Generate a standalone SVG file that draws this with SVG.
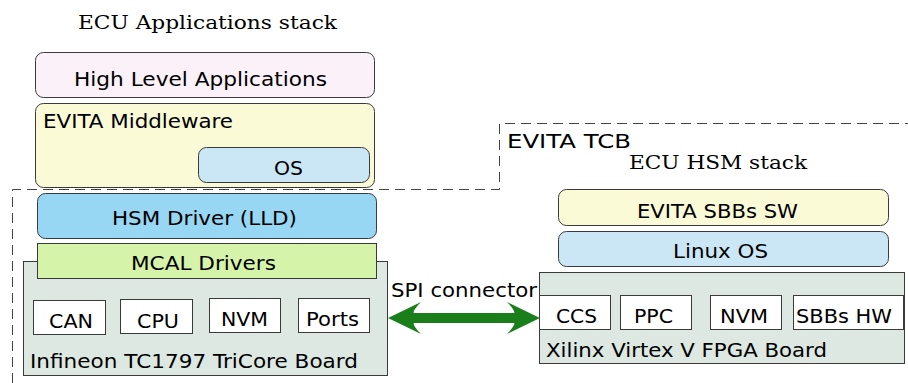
<svg xmlns="http://www.w3.org/2000/svg" width="908" height="383" viewBox="0 0 908 383">
<style>
.s{font-family:"DejaVu Sans",sans-serif;font-size:19px;fill:#000}
.sf{font-family:"DejaVu Serif",serif;font-size:19px;fill:#000}
.rb{stroke:#3a3a3a;stroke-width:1}
.wb{fill:#fff;stroke:#3a3a3a;stroke-width:1}
.dash{fill:none;stroke:#444;stroke-width:1;stroke-dasharray:10,6}
</style>
<rect width="908" height="383" fill="#fff"/>
<g id="tcb">
<path class="dash" d="M12.5,383 L12.5,189.5 L499.5,189.5 L499.5,123.5 L908,123.5"/>
<text class="s" x="507" y="148" font-size="21" textLength="124" lengthAdjust="spacingAndGlyphs">EVITA TCB</text>
</g>
<text id="title-app" class="sf" x="78" y="29" textLength="259" lengthAdjust="spacingAndGlyphs">ECU Applications stack</text>
<text id="title-hsm" class="sf" x="629" y="169" textLength="178" lengthAdjust="spacingAndGlyphs">ECU HSM stack</text>
<g id="hla">
<rect class="rb" x="35.5" y="52.5" width="339" height="45" rx="8" fill="#fbf1f9"/>
<text class="s" x="74" y="86" textLength="253" lengthAdjust="spacingAndGlyphs">High Level Applications</text>
</g>
<g id="middleware">
<rect class="rb" x="35.5" y="103.5" width="339" height="84" rx="8" fill="#fafad7"/>
<text class="s" x="43" y="128" textLength="190" lengthAdjust="spacingAndGlyphs">EVITA Middleware</text>
</g>
<g id="os">
<rect class="rb" x="198.5" y="147.5" width="171" height="35" rx="8" fill="#cbe7f5"/>
<text class="s" x="274" y="175" textLength="29" lengthAdjust="spacingAndGlyphs">OS</text>
</g>
<g id="hsm-driver">
<rect class="rb" x="37.5" y="193.5" width="339" height="45" rx="8" fill="#97d7f3"/>
<text class="s" x="112" y="225" textLength="185" lengthAdjust="spacingAndGlyphs">HSM Driver (LLD)</text>
</g>
<g id="infineon">
<rect class="rb" x="23.5" y="261.5" width="364" height="114" fill="#dce8e1"/>
<text class="s" x="30" y="368" textLength="328" lengthAdjust="spacingAndGlyphs">Infineon TC1797 TriCore Board</text>
</g>
<g id="mcal">
<rect class="rb" x="37.5" y="243.5" width="339" height="35" fill="#d5f4a9"/>
<text class="s" x="131" y="270" textLength="145" lengthAdjust="spacingAndGlyphs">MCAL Drivers</text>
</g>
<g id="can">
<rect class="wb" x="33.5" y="300.5" width="72" height="34"/>
<text class="s" x="49" y="328" textLength="44" lengthAdjust="spacingAndGlyphs">CAN</text>
</g>
<g id="cpu">
<rect class="wb" x="120.5" y="299.5" width="72" height="34"/>
<text class="s" x="137" y="328" textLength="42" lengthAdjust="spacingAndGlyphs">CPU</text>
</g>
<g id="nvm1">
<rect class="wb" x="209.5" y="298.5" width="71" height="34"/>
<text class="s" x="221" y="326" textLength="47" lengthAdjust="spacingAndGlyphs">NVM</text>
</g>
<g id="ports">
<rect class="wb" x="298.5" y="298.5" width="71" height="34"/>
<text class="s" x="306" y="326" textLength="53" lengthAdjust="spacingAndGlyphs">Ports</text>
</g>
<g id="sbbs-sw">
<rect class="rb" x="558.5" y="189.5" width="330" height="36" rx="8" fill="#fafad7"/>
<text class="s" x="637" y="218" textLength="161" lengthAdjust="spacingAndGlyphs">EVITA SBBs SW</text>
</g>
<g id="linux">
<rect class="rb" x="558.5" y="231.5" width="330" height="35" rx="8" fill="#cbe7f5"/>
<text class="s" x="673" y="258" textLength="95" lengthAdjust="spacingAndGlyphs">Linux OS</text>
</g>
<g id="xilinx">
<rect class="rb" x="539.5" y="272.5" width="365" height="91" fill="#dce8e1"/>
<text class="s" x="546" y="357" textLength="281" lengthAdjust="spacingAndGlyphs">Xilinx Virtex V FPGA Board</text>
</g>
<g id="ccs">
<rect class="wb" x="539.5" y="295.5" width="71" height="34"/>
<text class="s" x="556" y="323" textLength="41" lengthAdjust="spacingAndGlyphs">CCS</text>
</g>
<g id="ppc">
<rect class="wb" x="620.5" y="295.5" width="71" height="34"/>
<text class="s" x="634" y="323" textLength="39" lengthAdjust="spacingAndGlyphs">PPC</text>
</g>
<g id="nvm2">
<rect class="wb" x="710.5" y="295.5" width="71" height="34"/>
<text class="s" x="720" y="323" textLength="48" lengthAdjust="spacingAndGlyphs">NVM</text>
</g>
<g id="sbbs-hw">
<rect class="wb" x="793.5" y="295.5" width="110" height="34"/>
<text class="s" x="796" y="323" textLength="96" lengthAdjust="spacingAndGlyphs">SBBs HW</text>
</g>
<g id="connectors">
<path fill="#1a7f1a" d="M388,318 L421,302 C414,309 413,313 414,313 L514,313 C515,313 514,309 507,302 L540,318 L507,334 C514,327 515,323 514,323 L414,323 C413,323 414,327 421,334 Z"/>
<text class="s" x="391" y="297" textLength="146" lengthAdjust="spacingAndGlyphs">SPI connector</text>
</g>
</svg>
